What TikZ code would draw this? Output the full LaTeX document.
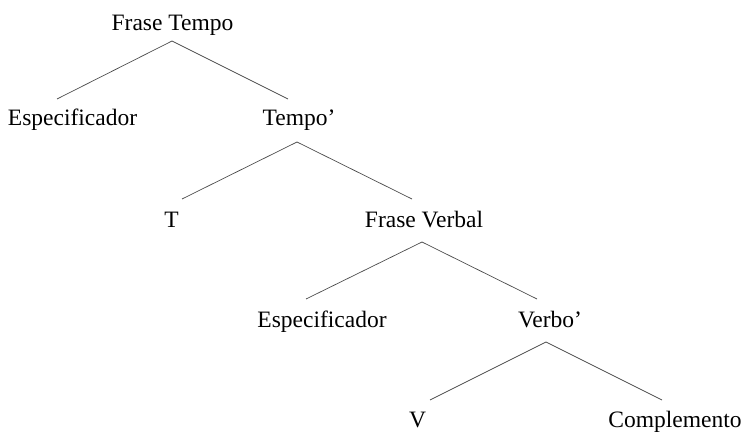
\documentclass[tikz,border=0pt]{standalone}
\usepackage{fontspec}
\setmainfont{Liberation Serif}

\begin{document}
\begin{tikzpicture}[x=1pt, y=-1pt,
		lbl/.style={font=\fontsize{23.5}{28}\selectfont, inner sep=0pt, anchor=base},
		branch/.style={draw=black!70, line width=0.7pt}]
		\useasboundingbox (0,0) rectangle (743,431);

		\node[lbl] (ft) at (172.5, 30) {Frase Tempo};
		\node[lbl] (esp1) at (72.5, 125) {Especificador};
		\node[lbl] (tempo) at (299, 125) {Tempo’};
		\node[lbl] (t) at (171.5, 227) {T};
		\node[lbl] (fv) at (424, 227) {Frase Verbal};
		\node[lbl] (esp2) at (322, 327) {Especificador};
		\node[lbl] (verbo) at (550, 327) {Verbo’};
		\node[lbl] (v) at (417.5, 427) {V};
		\node[lbl] (comp) at (675, 427) {Complemento};

		% branch points under each parent, leg ends above each child
		\coordinate (ft-a) at (172, 41);
		\coordinate (esp1-t) at (57, 99);
		\coordinate (tempo-t) at (288, 99);
		\coordinate (tempo-a) at (297, 142);
		\coordinate (t-t) at (182, 199);
		\coordinate (fv-t) at (412, 199);
		\coordinate (fv-a) at (422, 242);
		\coordinate (esp2-t) at (306, 299);
		\coordinate (verbo-t) at (537, 299);
		\coordinate (verbo-a) at (546, 342);
		\coordinate (v-t) at (430, 400);
		\coordinate (comp-t) at (662, 400);

		\draw[branch] (esp1-t) -- (ft-a) -- (tempo-t);
		\draw[branch] (t-t) -- (tempo-a) -- (fv-t);
		\draw[branch] (esp2-t) -- (fv-a) -- (verbo-t);
		\draw[branch] (v-t) -- (verbo-a) -- (comp-t);
	\end{tikzpicture}
\end{document}
